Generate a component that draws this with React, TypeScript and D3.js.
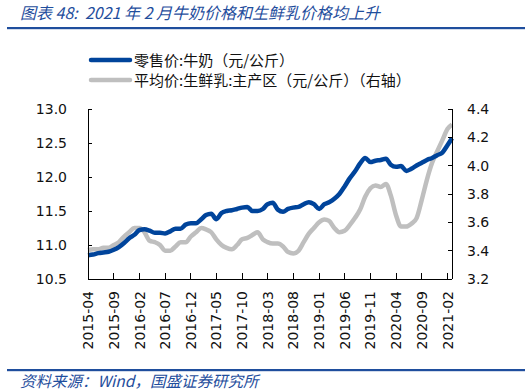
import * as d3 from 'd3';

// monthly samples, 2015-04 .. 2021-02, plus the last reading at the end of Feb 2021
const months: string[] = [
  '2015-04', '2015-05', '2015-06', '2015-07', '2015-08', '2015-09', '2015-10', '2015-11', '2015-12',
  '2016-01', '2016-02', '2016-03', '2016-04', '2016-05', '2016-06', '2016-07', '2016-08', '2016-09',
  '2016-10', '2016-11', '2016-12', '2017-01', '2017-02', '2017-03', '2017-04', '2017-05', '2017-06',
  '2017-07', '2017-08', '2017-09', '2017-10', '2017-11', '2017-12', '2018-01', '2018-02', '2018-03',
  '2018-04', '2018-05', '2018-06', '2018-07', '2018-08', '2018-09', '2018-10', '2018-11', '2018-12',
  '2019-01', '2019-02', '2019-03', '2019-04', '2019-05', '2019-06', '2019-07', '2019-08', '2019-09',
  '2019-10', '2019-11', '2019-12', '2020-01', '2020-02', '2020-03', '2020-04', '2020-05', '2020-06',
  '2020-07', '2020-08', '2020-09', '2020-10', '2020-11', '2020-12', '2021-01', '2021-02', '2021-02-27',
];

// 零售价:牛奶 (left axis)
const milkRetail: number[] = [
  10.85, 10.86, 10.88, 10.89, 10.9, 10.93, 10.97, 11.03, 11.1,
  11.15, 11.22, 11.23, 11.21, 11.18, 11.18, 11.17, 11.2, 11.24,
  11.24, 11.3, 11.32, 11.32, 11.38, 11.44, 11.46, 11.38, 11.47,
  11.5, 11.51, 11.53, 11.55, 11.56, 11.5, 11.5, 11.53, 11.6,
  11.62, 11.52, 11.49, 11.53, 11.55, 11.56, 11.6, 11.63, 11.6,
  11.53, 11.6, 11.63, 11.68, 11.75, 11.86, 11.98, 12.08, 12.2,
  12.28, 12.22, 12.24, 12.25, 12.27, 12.18, 12.15, 12.16, 12.09,
  12.12, 12.17, 12.21, 12.25, 12.28, 12.32, 12.36, 12.47, 12.57,
];

// 平均价:生鲜乳:主产区 (right axis)
const rawMilk: number[] = [
  3.405, 3.41, 3.41, 3.42, 3.42, 3.44, 3.46, 3.5, 3.53,
  3.56, 3.56, 3.53, 3.47, 3.46, 3.44, 3.4, 3.4, 3.43,
  3.46, 3.46, 3.5, 3.53, 3.56, 3.55, 3.53, 3.48, 3.44,
  3.42, 3.41, 3.44, 3.48, 3.49, 3.51, 3.53, 3.48, 3.46,
  3.45, 3.45, 3.43, 3.39, 3.38, 3.4, 3.46, 3.52, 3.56,
  3.6, 3.62, 3.61, 3.56, 3.53, 3.54, 3.58, 3.63, 3.69,
  3.78, 3.84, 3.86, 3.85, 3.87, 3.79, 3.65, 3.57, 3.57,
  3.59, 3.63, 3.76, 3.9, 4.02, 4.1, 4.18, 4.26, 4.29,
];

const xTickLabels: string[] = [
  '2015-04', '2015-09', '2016-02', '2016-07', '2016-12', '2017-05', '2017-10', '2018-03',
  '2018-08', '2019-01', '2019-06', '2019-11', '2020-04', '2020-09', '2021-02',
];
const leftTicks: number[] = [10.5, 11.0, 11.5, 12.0, 12.5, 13.0];
const rightTicks: number[] = [3.2, 3.4, 3.6, 3.8, 4.0, 4.2, 4.4];

const W = 530;
const H = 392;
const plot = { left: 88, right: 452, top: 109, bottom: 279 };
const BLUE = '#00449b';
const GREY = '#bfbfbf';
const TITLE_BLUE = '#1f4e9d';
const tickFont = "'DejaVu Sans', sans-serif";
const cjkFont = "'Noto Sans CJK SC', sans-serif";

const parse = (s: string) => (s.length > 7 ? d3.timeParse('%Y-%m-%d')(s) : d3.timeParse('%Y-%m')(s)) as Date;
const dates = months.map(parse);

export default function App() {
  const x = d3.scaleTime()
    .domain([dates[0], dates[dates.length - 1]])
    .range([plot.left, plot.right]);
  const yL = d3.scaleLinear().domain([10.5, 13.0]).range([plot.bottom, plot.top]);
  const yR = d3.scaleLinear().domain([3.2, 4.4]).range([plot.bottom, plot.top]);

  const lineL = d3.line<number>()
    .x((_, i) => x(dates[i]))
    .y(d => yL(d))
    .curve(d3.curveMonotoneX);
  const lineR = d3.line<number>()
    .x((_, i) => x(dates[i]))
    .y(d => yR(d))
    .curve(d3.curveMonotoneX);

  return (
    <svg width={W} height={H} style={{ position: 'absolute', left: 0, top: 0, background: '#fff' }}>
      {/* header */}
      <text x={20} y={19} fill={TITLE_BLUE} fontFamily={cjkFont} fontSize={16} fontStyle="italic" style={{ whiteSpace: 'pre' }}>
        {'图表 48:  2021 年 2 月牛奶价格和生鲜乳价格均上升'}
      </text>
      <rect x={7} y={27} width={518} height={2.2} fill={TITLE_BLUE} />

      {/* legend */}
      <line x1={91} x2={130} y1={60} y2={60} stroke={BLUE} strokeWidth={4.5} strokeLinecap="round" />
      <text x={134} y={65.5} fontFamily={cjkFont} fontSize={15} fill="#111">零售价:牛奶（元/公斤）</text>
      <line x1={91} x2={130} y1={80} y2={80} stroke={GREY} strokeWidth={4.5} strokeLinecap="round" />
      <text x={134} y={85.5} fontFamily={cjkFont} fontSize={15} fill="#111">平均价:生鲜乳:主产区（元/公斤）（右轴）</text>

      {/* series */}
      <path d={lineR(rawMilk) || ''} fill="none" stroke={GREY} strokeWidth={4.5} strokeLinejoin="round" />
      <path d={lineL(milkRetail) || ''} fill="none" stroke={BLUE} strokeWidth={4.5} strokeLinejoin="round" />

      {/* axes */}
      <g stroke="#000" strokeWidth={1} shapeRendering="crispEdges">
        <line x1={plot.left} x2={plot.left} y1={plot.top} y2={plot.bottom} />
        <line x1={plot.right} x2={plot.right} y1={plot.top} y2={plot.bottom} />
        <line x1={plot.left} x2={plot.right} y1={plot.bottom} y2={plot.bottom} />
        {leftTicks.map(t => (
          <line key={'lt' + t} x1={plot.left} x2={plot.left + 4} y1={yL(t)} y2={yL(t)} />
        ))}
        {rightTicks.map(t => (
          <line key={'rt' + t} x1={plot.right - 4} x2={plot.right} y1={yR(t)} y2={yR(t)} />
        ))}
        {xTickLabels.map(t => (
          <line key={'xt' + t} x1={x(parse(t))} x2={x(parse(t))} y1={plot.bottom - 6} y2={plot.bottom} />
        ))}
      </g>

      {leftTicks.map(t => (
        <text key={'ll' + t} x={67} y={yL(t) + 5} textAnchor="end" fontFamily={tickFont} fontSize={14} fill="#111">
          {d3.format('.1f')(t)}
        </text>
      ))}
      {rightTicks.map(t => (
        <text key={'rl' + t} x={467} y={yR(t) + 5} fontFamily={tickFont} fontSize={14} fill="#111">
          {d3.format('.1f')(t)}
        </text>
      ))}
      {xTickLabels.map(t => (
        <text
          key={'xl' + t}
          transform={`translate(${x(parse(t)) + 5},291) rotate(-90)`}
          textAnchor="end"
          fontFamily={tickFont}
          fontSize={14}
          fill="#111"
        >
          {t}
        </text>
      ))}

      {/* footer */}
      <rect x={7} y={369} width={518} height={2.2} fill={TITLE_BLUE} />
      <text x={20} y={387} fill={TITLE_BLUE} fontFamily={cjkFont} fontSize={15.5} fontStyle="italic">
        资料来源：Wind，国盛证券研究所
      </text>
    </svg>
  );
}
